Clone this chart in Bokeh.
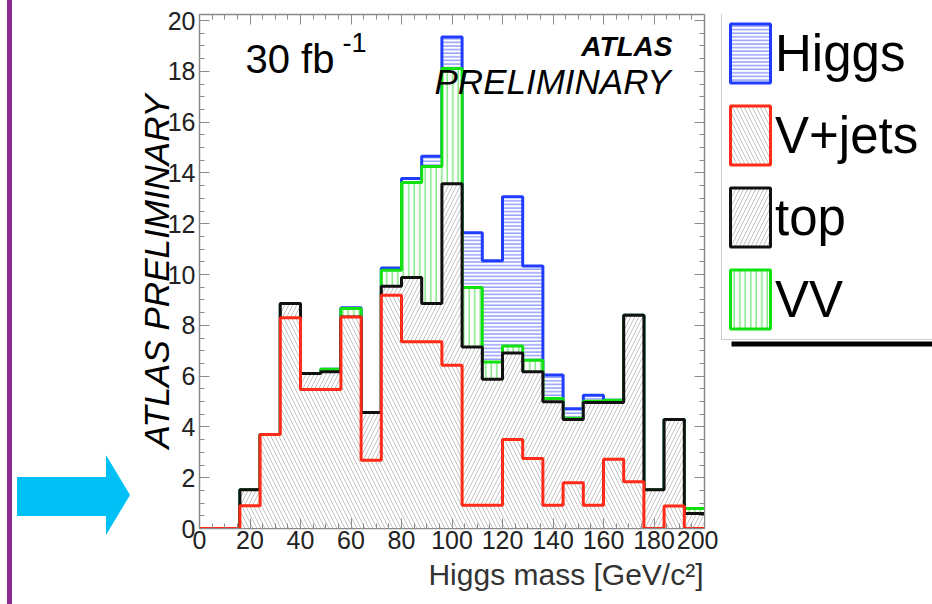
import numpy as np
from bokeh.plotting import figure
from bokeh.layouts import row
from bokeh.models import (Range1d, LinearAxis, SingleIntervalTicker, Label, Legend, LegendItem,
                          BoxAnnotation, ColumnDataSource, Title, Div, CustomJSTickFormatter)
from bokeh.embed import file_html
from bokeh.resources import INLINE

# ---------------- data (events per 8 GeV bin) ----------------
bin_edges = list(range(0, 201, 8))
vjets = [0, 0, 0.9, 3.7, 8.3, 5.47, 5.47, 8.33, 2.69, 9.18, 7.35, 7.35, 6.43,
         0.92, 0.92, 3.50, 2.76, 0.92, 1.80, 0.92, 2.73, 1.84, 0, 0.89, 0]
top = [0, 0, 0.63, 0, 0.56, 0.63, 0.70, 0, 1.88, 0.36, 2.53, 1.51, 7.15,
       6.23, 4.96, 3.41, 3.41, 4.07, 2.49, 4.04, 2.23, 6.56, 1.53, 3.40, 0.59]
vv = [0, 0, 0, 0, 0, 0, 0.10, 0.33, 0, 0.63, 3.74, 5.39, 4.53,
      2.34, 0.68, 0.28, 0.46, 0.13, 0.05, 0.05, 0.09, 0, 0, 0, 0.20]
higgs = [0, 0, 0, 0, 0, 0, 0, 0.03, 0, 0.09, 0.16, 0.41, 1.24,
         2.16, 3.98, 5.87, 3.71, 0.92, 0.38, 0.24, 0, 0, 0, 0, 0]
series_names = ["Higgs", "V+jets", "top", "VV"]

FONT = "Liberation Sans"
H = 604
LEFT_W, MAIN_W = 130, 588
LEG_W = 932 - LEFT_W - MAIN_W
B_TOP, B_BOTTOM = 14, 76

edges = np.array(bin_edges, dtype=float)
c1 = np.array(vjets)
c2 = c1 + np.array(top)
c3 = c2 + np.array(vv)
c4 = c3 + np.array(higgs)

def step_area(cum):
    return dict(x=np.repeat(edges, 2)[1:-1], y1=np.zeros(2 * len(cum)), y2=np.repeat(cum, 2))

def step_line(cum):
    return dict(x=edges, y=np.append(cum, cum[-1]))

# ---------------- left decoration (slide bar + arrow) ----------------
left = Div(width=LEFT_W, height=H, margin=0, text=(
    f'<svg width="{LEFT_W}" height="{H}" style="display:block">'
    f'<rect x="7" y="0" width="5" height="{H}" fill="#8b2b8f"/>'
    '<polygon points="17,477 106,477 106,455 130,495 106,535 106,516 17,516" fill="#00c0f5"/>'
    '</svg>'))

# ---------------- main histogram ----------------
p = figure(width=MAIN_W, height=H, output_backend="svg", toolbar_location=None,
           x_range=Range1d(0, 200), y_range=Range1d(0, 20.24),
           min_border_left=69, min_border_right=14, min_border_top=B_TOP,
           min_border_bottom=B_BOTTOM)
p.background_fill_color = "white"
p.border_fill_color = "white"
p.outline_line_color = "#8a8a8a"
p.outline_line_width = 1.5
p.xgrid.visible = False
p.ygrid.visible = False

HATCH_GRAY = "#c2c2c2"
styles = [
    (c4, "#1f3cff", "horizontal_line", "#6070ff", 3.6),
    (c3, "#11e011", "vertical_line", "#44dd44", 5.5),
    (c2, "#111111", "right_diagonal_line", HATCH_GRAY, 8),
    (c1, "#ff2a17", "left_diagonal_line", HATCH_GRAY, 8),
]
for cum, lc, hp, hc, hs in styles:
    p.varea(source=ColumnDataSource(step_area(cum)), x="x", y1="y1", y2="y2",
            fill_color="white", hatch_pattern=hp, hatch_color=hc, hatch_scale=hs, hatch_weight=1)
    p.step(source=ColumnDataSource(step_line(cum)), x="x", y="y", mode="after",
           line_color=lc, line_width=3)

for ax in (p.xaxis[0], p.yaxis[0]):
    ax.axis_line_color = "#8a8a8a"
    ax.major_tick_line_color = "#8a8a8a"
    ax.minor_tick_line_color = "#8a8a8a"
    ax.major_tick_out = 0
    ax.minor_tick_out = 0
    ax.major_tick_in = 10
    ax.minor_tick_in = 5
    ax.major_label_text_font = FONT
    ax.major_label_text_font_size = "25px"
    ax.major_label_text_color = "#222222"

p.xaxis.ticker = SingleIntervalTicker(interval=20, num_minor_ticks=4)
p.yaxis.ticker = SingleIntervalTicker(interval=2, num_minor_ticks=4)
p.xaxis.major_label_standoff = 2
p.yaxis.major_label_standoff = 4

# rotated "ATLAS PRELIMINARY" as the y axis label, overlapping the tick labels
p.yaxis.axis_label = "ATLAS PRELIMINARY"
p.yaxis.axis_label_text_font = FONT
p.yaxis.axis_label_text_font_size = "35px"
p.yaxis.axis_label_text_font_style = "italic"
p.yaxis.axis_label_text_color = "black"
p.yaxis.axis_label_standoff = -11

for loc, tick in (("above", SingleIntervalTicker(interval=20, num_minor_ticks=4)),
                  ("right", SingleIntervalTicker(interval=2, num_minor_ticks=4))):
    ax = LinearAxis(ticker=tick, axis_line_color="#8a8a8a", major_tick_line_color="#8a8a8a",
                    minor_tick_line_color="#8a8a8a", major_tick_out=0, minor_tick_out=0,
                    major_tick_in=10, minor_tick_in=5, major_label_standoff=0,
                    formatter=CustomJSTickFormatter(code="return ''"))
    p.add_layout(ax, loc)

# x axis title, right aligned (ROOT style)
p.add_layout(Title(text="Higgs mass [GeV/c²]", align="right", text_font=FONT,
                   text_font_size="30px", text_font_style="normal", text_color="#333333",
                   standoff=9, offset=1), "below")

def lab(x, y, text, size, style="normal", align="left"):
    p.add_layout(Label(x=x, y=y, x_units="screen", y_units="screen", text=text,
                       text_align=align, text_baseline="middle", text_font=FONT,
                       text_font_size=size, text_font_style=style, text_color="black"))

lab(46, 470, "30 fb", "40px")
lab(143, 486, "-1", "27px")
lab(473, 482, "ATLAS", "28px", style="bold italic", align="right")
lab(471, 447, "PRELIMINARY", "35px", style="italic", align="right")

# ---------------- legend panel ----------------
pg = figure(width=LEG_W, height=H, output_backend="svg", toolbar_location=None,
            x_range=Range1d(0, 1), y_range=Range1d(0, 1),
            x_axis_type=None, y_axis_type=None, min_border_left=0, min_border_right=0,
            min_border_top=B_TOP, min_border_bottom=B_BOTTOM)
pg.outline_line_color = None
pg.background_fill_color = "white"
pg.border_fill_color = "white"

legend_styles = [
    ("#1f3cff", "horizontal_line", "#6070ff", 3.6),
    ("#ff2a17", "left_diagonal_line", HATCH_GRAY, 8),
    ("#111111", "right_diagonal_line", HATCH_GRAY, 8),
    ("#11e011", "vertical_line", "#44dd44", 5.5),
]
items = []
for name, (lc, hp, hc, hs) in zip(series_names, legend_styles):
    r = pg.quad(source=ColumnDataSource(dict(l=[np.nan], r=[np.nan], t=[np.nan], b=[np.nan])),
                left="l", right="r", top="t", bottom="b", fill_color="white", line_color=lc,
                line_width=3, hatch_pattern=hp, hatch_color=hc, hatch_scale=hs, hatch_weight=1)
    items.append(LegendItem(label=name, renderers=[r]))

frame_bottom = H - B_BOTTOM
pg.add_layout(BoxAnnotation(left=13, right=LEG_W + 10, top=frame_bottom - 341,
                            bottom=frame_bottom - 346, left_units="screen", right_units="screen",
                            top_units="screen", bottom_units="screen",
                            fill_color="black", fill_alpha=1, line_color=None))
leg = Legend(items=items, location=(3, frame_bottom - 340), glyph_width=50, glyph_height=74,
             label_height=74, label_width=200, spacing=8, padding=3, margin=0, label_standoff=0,
             label_text_font=FONT, label_text_font_size="51px", label_text_color="black",
             border_line_color="#9a9a9a", border_line_width=1.5, background_fill_color="white",
             background_fill_alpha=1)
pg.add_layout(leg)

layout = row(left, p, pg, spacing=0)
open("out.html", "w").write(file_html(layout, INLINE))
